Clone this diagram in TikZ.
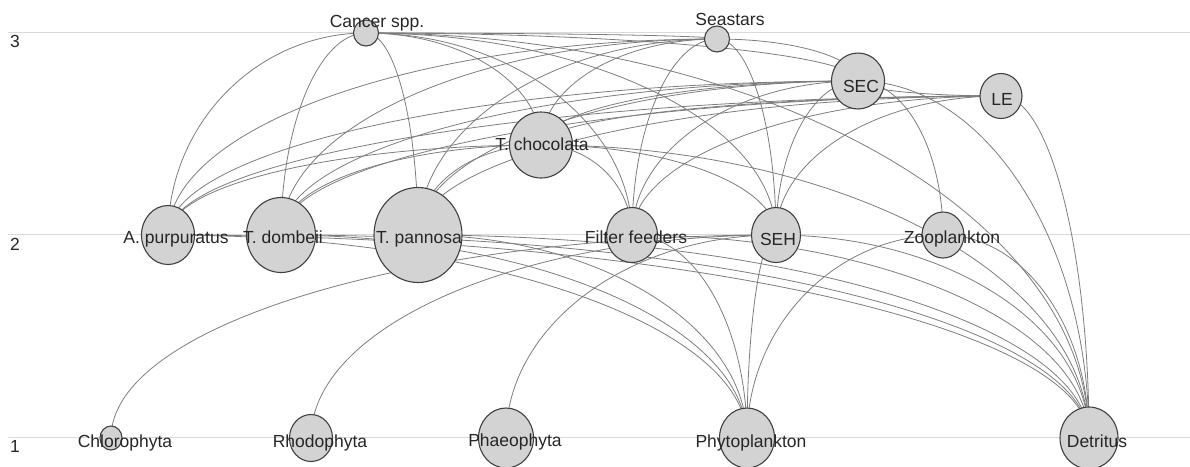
\documentclass[tikz,border=0pt]{standalone}
\usepackage{fontspec}
\setmainfont{Liberation Sans}
\usetikzlibrary{calc,backgrounds,shapes.geometric}
\definecolor{linkgray}{RGB}{125,125,125}
\definecolor{levelgray}{RGB}{218,218,218}
\definecolor{groupfill}{RGB}{211,211,211}
\definecolor{groupdraw}{RGB}{64,64,64}
\begin{document}
\begin{tikzpicture}%
	[x=1pt,y=-1pt,
	levelline/.style={color=levelgray, line width=1pt},
	group/.style 2 args={ellipse,inner sep=0pt,draw=groupdraw,fill=groupfill,line width=1.1pt,minimum width=#1pt,minimum height=#2pt},
	grouplabel/.style={anchor=base,inner sep=0pt,text=black!85,font=\fontsize{17.5}{20}\selectfont},
	feeds/.style={draw=linkgray,line width=0.8pt,
		to path={let \p1=(\tikztostart), \p2=(\tikztotarget) in
		.. controls (\x1,{0.45*(\y1)+0.55*(\y2)}) and ({0.45*(\x2)+0.55*(\x1)},\y2) .. (\tikztotarget)}}]
\useasboundingbox (0,0) rectangle (1190,466);
%%
%% Drawing the groups
%%
\node[group={25}{26}] (cancer) at (366,33) {};
\node[group={25}{26}] (seastars) at (717,39) {};
\node[group={53}{56}] (sec) at (858,81) {};
\node[group={42}{45}] (le) at (1001,96) {};
\node[group={63}{66}] (tchoc) at (541,145) {};
\node[group={53}{59}] (apurp) at (168,235) {};
\node[group={69}{75}] (tdomb) at (281,235) {};
\node[group={88}{95}] (tpann) at (418,235) {};
\node[group={51}{55}] (filter) at (632,235) {};
\node[group={49}{55}] (seh) at (776,235) {};
\node[group={42}{46}] (zoo) at (943,235) {};
\node[group={22}{24}] (chloro) at (111,438) {};
\node[group={43}{47}] (rhodo) at (311,438) {};
\node[group={55}{60}] (phaeo) at (506,438) {};
\node[group={55}{60}] (phyto) at (747,438) {};
\node[group={58}{62}] (detritus) at (1089,438) {};
%%
%% Drawing the names
%%
\node[grouplabel] (cancer-t) at (377,27) {Cancer spp.};
\node[grouplabel] (seastars-t) at (730,25) {Seastars};
\node[grouplabel] (sec-t) at (861,92) {SEC};
\node[grouplabel] (le-t) at (1002,105) {LE};
\node[grouplabel] (tchoc-t) at (542,150) {T. chocolata};
\node[grouplabel] (apurp-t) at (176,243) {A. purpuratus};
\node[grouplabel] (tdomb-t) at (283,243) {T. dombeii};
\node[grouplabel] (tpann-t) at (419,243) {T. pannosa};
\node[grouplabel] (filter-t) at (636,243) {Filter feeders};
\node[grouplabel] (seh-t) at (778,245) {SEH};
\node[grouplabel] (zoo-t) at (952,243) {Zooplankton};
\node[grouplabel] (chloro-t) at (125,447) {Chlorophyta};
\node[grouplabel] (rhodo-t) at (320,447) {Rhodophyta};
\node[grouplabel] (phaeo-t) at (515,446) {Phaeophyta};
\node[grouplabel] (phyto-t) at (751,447) {Phytoplankton};
\node[grouplabel] (detritus-t) at (1097,447) {Detritus};
%%
%% Drawing the trophic levels
%%
\node[grouplabel] (lev3) at (15,47) {3};
\node[grouplabel] (lev2) at (15,250) {2};
\node[grouplabel] (lev1) at (15,452) {1};
\begin{scope}[on background layer]
\draw[levelline] (8,32.3) -- (1190,32.3);
\draw[levelline] (8,234) -- (1190,234);
\draw[levelline] (8,437.7) -- (1190,437.7);
%%
%% Drawing the links, prey to predator
%%
\foreach \prey/\pred in {phyto/apurp, phyto/tdomb, phyto/tpann, phyto/filter, phyto/seh, phyto/zoo,
	detritus/apurp, detritus/tdomb, detritus/tpann, detritus/filter, detritus/seh, detritus/zoo,
	detritus/tchoc, detritus/sec, detritus/le, detritus/cancer,
	chloro/seh, rhodo/seh, phaeo/seh}
	\draw[feeds] (\prey.center) to (\pred.center);
\foreach \prey in {apurp, tdomb, tpann, filter, seh}
	\foreach \pred in {tchoc, sec, le, seastars, cancer}
		\draw[feeds] (\prey.center) to (\pred.center);
\foreach \prey/\pred in {zoo/sec, tchoc/sec, tchoc/le, tchoc/seastars, tchoc/cancer,
	sec/le, sec/cancer, sec/seastars, seastars/cancer}
	\draw[feeds] (\prey.center) to (\pred.center);
\end{scope}
%%
\end{tikzpicture}
\end{document}
